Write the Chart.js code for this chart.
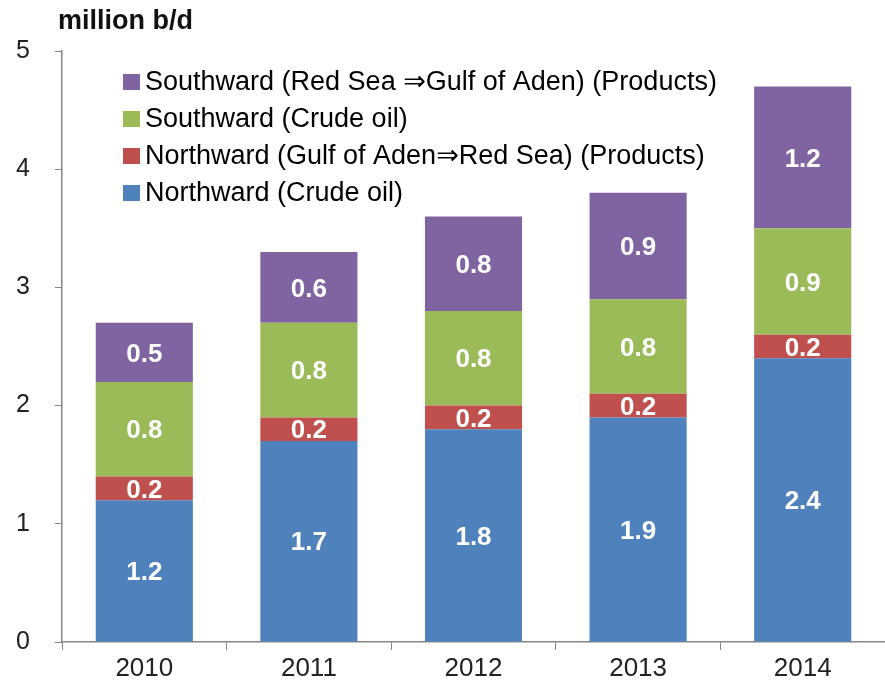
<!DOCTYPE html>
<html>
<head>
<meta charset="utf-8">
<script src="https://cdn.jsdelivr.net/npm/chart.js@4"></script>
<style>
  html, body { margin: 0; padding: 0; background: #fff; }
  #wrap { width: 885px; height: 692px; position: relative; }
</style>
</head>
<body>
<div id="wrap"><canvas id="chart" width="885" height="692"></canvas></div>
<script>
// --- data ---
const years       = ['2010', '2011', '2012', '2013', '2014'];
const northCrude  = [1.2, 1.7, 1.8, 1.9, 2.4];
const northProd   = [0.2, 0.2, 0.2, 0.2, 0.2];
const southCrude  = [0.8, 0.8, 0.8, 0.8, 0.9];
const southProd   = [0.5, 0.6, 0.8, 0.9, 1.2];
const yTicks      = [0, 1, 2, 3, 4, 5];

const FONT = '"Liberation Sans", Arial, "DejaVu Sans", sans-serif';

// legend drawn inside the plot, top-left, reversed order like the original
const insideLegend = {
  id: 'insideLegend',
  afterDraw(chart) {
    const ctx = chart.ctx;
    const items = chart.data.datasets.slice().reverse();
    ctx.save();
    ctx.font = '27px ' + FONT;
    ctx.textBaseline = 'middle';
    items.forEach((ds, i) => {
      const y = 82 + i * 37;
      ctx.fillStyle = ds.backgroundColor;
      ctx.fillRect(123, y - 8, 17, 16);
      ctx.fillStyle = '#000';
      ctx.fillText(ds.label, 145, y + 1);
    });
    ctx.restore();
  }
};

// value labels centred in every segment
const segLabels = {
  id: 'segLabels',
  afterDatasetsDraw(chart) {
    const ctx = chart.ctx;
    ctx.save();
    ctx.font = 'bold 26px ' + FONT;
    ctx.textAlign = 'center';
    ctx.textBaseline = 'middle';
    ctx.fillStyle = '#fff';
    chart.data.datasets.forEach((ds, di) => {
      chart.getDatasetMeta(di).data.forEach((bar, i) => {
        const cy = (bar.y + bar.base) / 2;
        ctx.fillText(ds.data[i].toFixed(1), bar.x, cy + 2);
      });
    });
    ctx.restore();
  }
};

// unit title above the axis
const unitTitle = {
  id: 'unitTitle',
  afterDraw(chart) {
    const ctx = chart.ctx;
    ctx.save();
    ctx.font = 'bold 27px ' + FONT;
    ctx.fillStyle = '#111';
    ctx.textBaseline = 'middle';
    ctx.fillText('million b/d', 58, 22);
    ctx.restore();
  }
};

new Chart(document.getElementById('chart'), {
  type: 'bar',
  data: {
    labels: years,
    datasets: [
      { label: 'Northward (Crude oil)', data: northCrude, backgroundColor: '#4F81BD' },
      { label: 'Northward (Gulf of Aden\u21D2Red Sea) (Products)', data: northProd, backgroundColor: '#C0504D' },
      { label: 'Southward (Crude oil)', data: southCrude, backgroundColor: '#9BBB59' },
      { label: 'Southward (Red Sea \u21D2Gulf of Aden) (Products)', data: southProd, backgroundColor: '#8064A2' }
    ]
  },
  options: {
    responsive: false,
    animation: false,
    layout: { padding: { top: 51, right: 0, left: 0, bottom: 0 } },
    datasets: { bar: { categoryPercentage: 1, barPercentage: 0.59 } },
    plugins: { legend: { display: false }, tooltip: { enabled: false } },
    scales: {
      x: {
        stacked: true,
        grid: { display: true, drawOnChartArea: false, offset: true, tickLength: 8, color: '#868686' },
        border: { color: '#868686', width: 1.5 },
        ticks: { color: '#222', font: { family: FONT, size: 26 }, padding: 3 },
        afterFit(s) { s.height = 50; }
      },
      y: {
        stacked: true,
        min: 0, max: 5,
        afterBuildTicks(s) { s.ticks = yTicks.map(v => ({ value: v })); },
        grid: { display: true, drawOnChartArea: false, tickLength: 7, color: '#868686' },
        border: { color: '#868686', width: 1.5 },
        ticks: { color: '#222', font: { family: FONT, size: 25 }, padding: 25 },
        afterFit(s) { s.width = 62; }
      }
    }
  },
  plugins: [segLabels, insideLegend, unitTitle]
});
</script>
</body>
</html>
